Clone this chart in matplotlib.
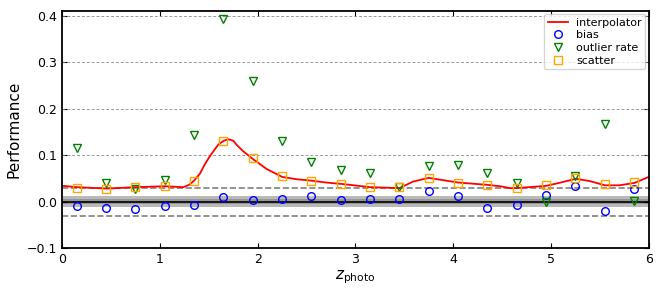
import numpy as np
import matplotlib
matplotlib.use("Agg")
import matplotlib.pyplot as plt

# bin centres in z_photo
z_bins = [0.15, 0.45, 0.75, 1.05, 1.35, 1.65, 1.95, 2.25, 2.55, 2.85,
          3.15, 3.45, 3.75, 4.05, 4.35, 4.65, 4.95, 5.25, 5.55, 5.85]

bias = [-0.009, -0.014, -0.016, -0.009, -0.007, 0.009, 0.004, 0.005, 0.011, 0.003,
        0.006, 0.006, 0.022, 0.011, -0.013, -0.008, 0.015, 0.034, -0.021, 0.027]

outlier = [0.116, 0.041, 0.028, 0.046, 0.144, 0.393, 0.259, 0.131, 0.085, 0.068,
           0.061, 0.031, 0.077, 0.079, 0.061, 0.040, 0.000, 0.056, 0.167, 0.001]

scatter = [0.030, 0.028, 0.031, 0.034, 0.044, 0.131, 0.093, 0.054, 0.045, 0.038,
           0.032, 0.031, 0.050, 0.041, 0.036, 0.029, 0.036, 0.050, 0.037, 0.042]

# interpolator curve
curve_z = [0.0, 0.15, 0.46, 0.75, 1.05, 1.24, 1.30, 1.35, 1.41, 1.46, 1.51, 1.565, 1.60,
           1.656, 1.70, 1.75, 1.786, 1.854, 1.956, 2.093, 2.253, 2.40, 2.553,
           2.70, 2.856, 2.945, 3.15, 3.45, 3.59, 3.75, 3.90, 4.05, 4.35, 4.48,
           4.58, 4.65, 4.955, 5.10, 5.256, 5.40, 5.552, 5.70, 5.852, 6.0]
curve_val = [0.034, 0.031, 0.028, 0.031, 0.033, 0.031, 0.036, 0.045, 0.060, 0.080, 0.097,
             0.113, 0.123, 0.131, 0.134, 0.131, 0.122, 0.108, 0.091, 0.070, 0.053,
             0.048, 0.045, 0.041, 0.038, 0.036, 0.031, 0.029, 0.043, 0.051, 0.046,
             0.041, 0.036, 0.033, 0.029, 0.029, 0.034, 0.041, 0.049, 0.044, 0.035,
             0.035, 0.040, 0.053]

fig = plt.figure(figsize=(6.64, 2.95), dpi=100)
ax = fig.add_axes([0.0934, 0.159, 0.8836, 0.804])

ax.fill_between([0, 6], -0.011, 0.011, color='gray', alpha=0.55, lw=0)
ax.fill_between([0, 6], -0.006, 0.006, color='gray', alpha=0.6, lw=0)
ax.axhline(0, color='black', lw=1.2)
ax.axhline(0.03, color='gray', ls='--', lw=1.2)
ax.axhline(-0.03, color='gray', ls='--', lw=1.2)
for g in [0.1, 0.2, 0.3, 0.4]:
    ax.axhline(g, color='gray', ls='--', lw=0.7, alpha=0.8, dashes=(3, 2))

ax.plot(curve_z, curve_val, color='red', lw=1.3, label='interpolator')
ax.plot(z_bins, bias, 'o', mfc='none', mec='blue', ms=5.5, mew=1.0, label='bias')
ax.plot(z_bins, outlier, 'v', mfc='none', mec='green', ms=5.5, mew=1.0, label='outlier rate')
ax.plot(z_bins, scatter, 's', mfc='none', mec='orange', ms=5.5, mew=1.0, label='scatter')

ax.set_xlim(0, 6)
ax.set_ylim(-0.1, 0.41)
ax.set_yticks([-0.1, 0.0, 0.1, 0.2, 0.3, 0.4])
ax.set_xticks([0, 1, 2, 3, 4, 5, 6])
ax.tick_params(direction='in', top=True, right=True, labelsize=9)
for s in ax.spines.values():
    s.set_linewidth(1.3)

ax.set_xlabel(r'$z_{\rm photo}$', fontsize=11, labelpad=2)
ax.set_ylabel('Performance', fontsize=11)
ax.legend(loc='upper right', fontsize=8, numpoints=1, handlelength=1.8,
          borderpad=0.3, labelspacing=0.25, borderaxespad=0.3)

fig.savefig('out.png', dpi=100)
